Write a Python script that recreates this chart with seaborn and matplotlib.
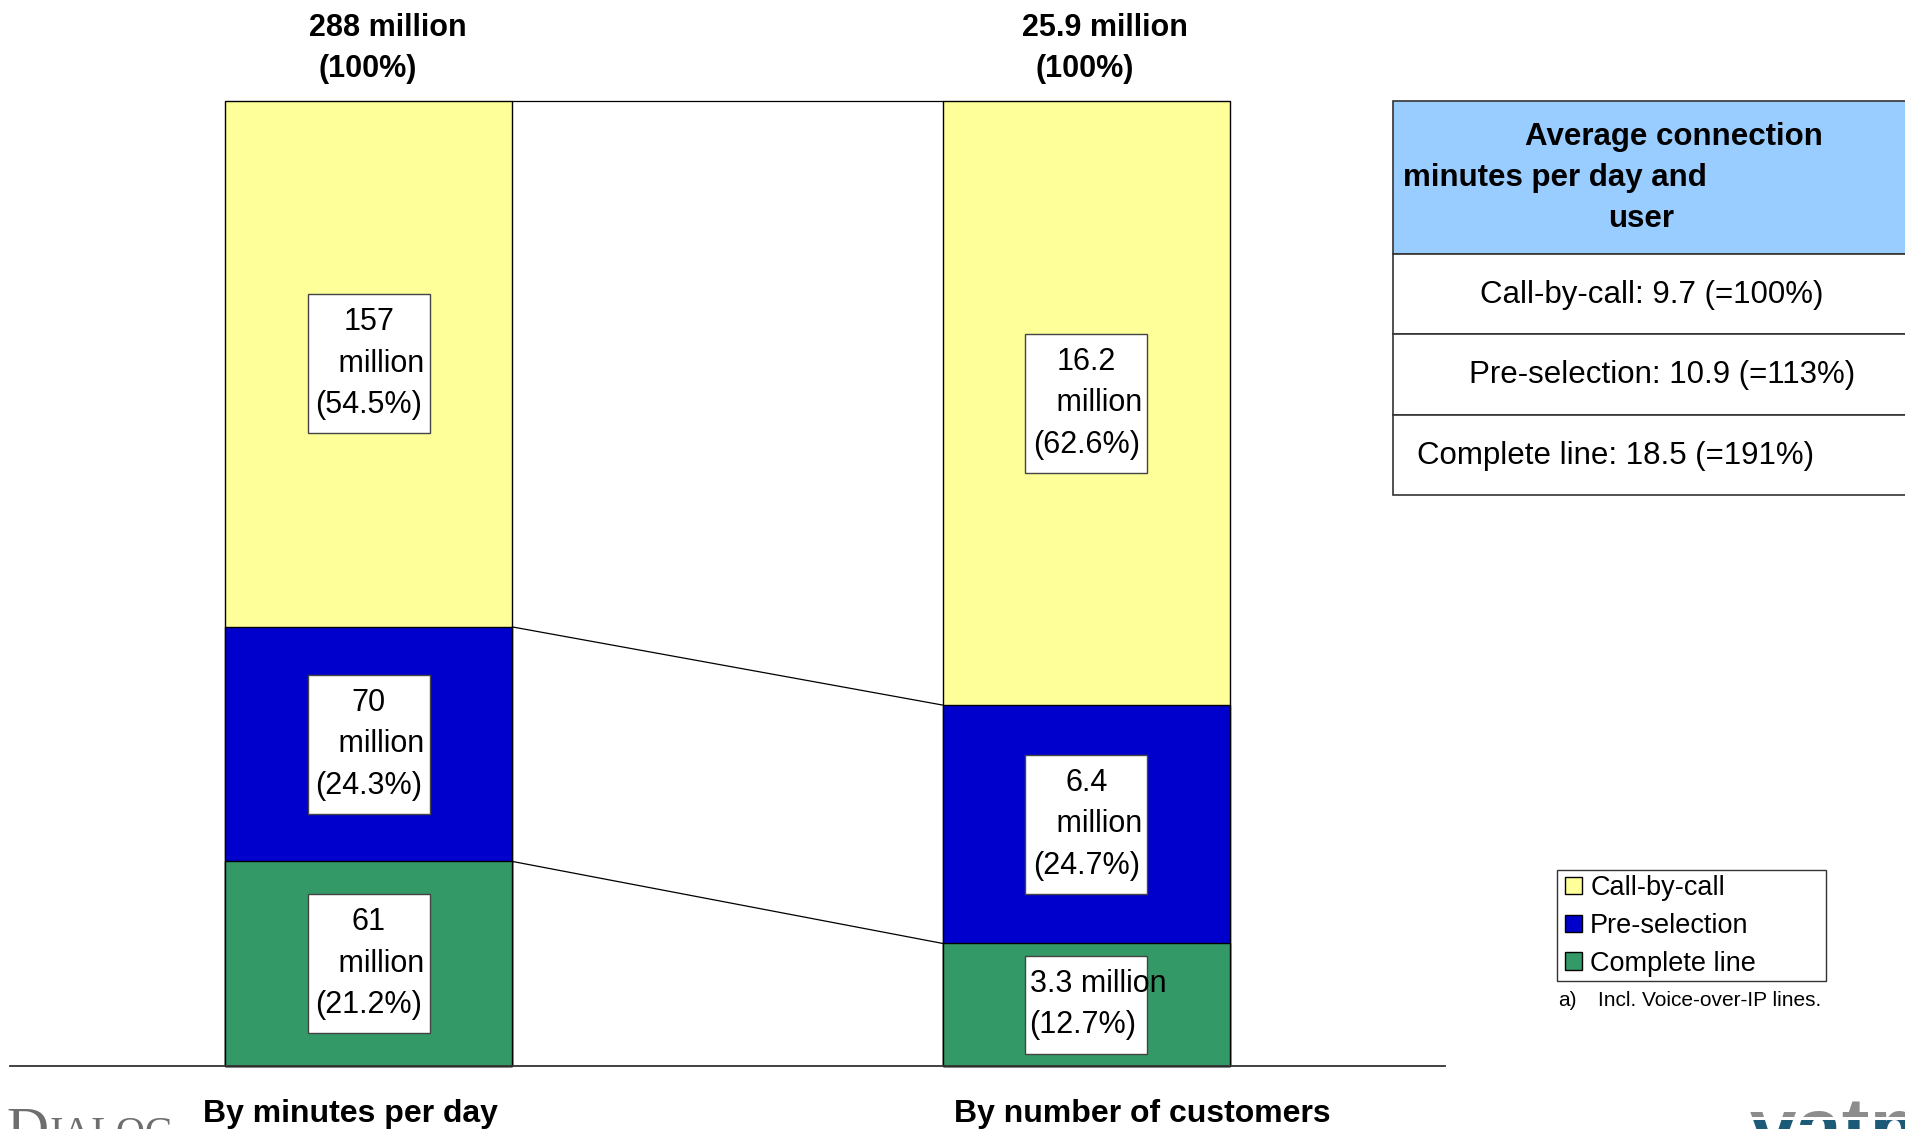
import matplotlib
matplotlib.use("Agg")
import matplotlib.pyplot as plt
import seaborn as sns
import numpy as np
from matplotlib.patches import Rectangle, Patch
from matplotlib.transforms import Bbox

# ---- data -------------------------------------------------------------
categories = ["By minutes per day", "By number of customers"]
totals = ["288 million", "25.9 million"]
segments = ["Call-by-call", "Pre-selection", "Complete line"]
call_by_call_pct = [54.5, 62.6]
pre_selection_pct = [24.3, 24.7]
complete_line_pct = [21.2, 12.7]
call_by_call_abs = ["157", "16.2"]
pre_selection_abs = ["70", "6.4"]
complete_line_abs = ["61", "3.3"]
avg_minutes = [9.7, 10.9, 18.5]
avg_index = [100, 113, 191]

seg_colors = ["#FFFF99", "#0000CC", "#339966"]

# ---- figure setup -----------------------------------------------------
W, H, DPI = 1906, 1129, 100
sns.set_theme(style="white")
plt.rcParams["font.family"] = ["Liberation Sans", "DejaVu Sans"]
plt.rcParams["text.color"] = "black"

fig = plt.figure(figsize=(W / DPI, H / DPI), dpi=DPI)
fig.patch.set_facecolor("white")


def fx(x):
    return x / W


def fy(y):
    return 1 - y / H


ax = fig.add_axes([fx(10), 63 / H, 1435 / W, 965 / H])

pct = np.array([call_by_call_pct, pre_selection_pct, complete_line_pct])
# cumulative heights, drawn tallest first so each layer sits on top
green_top = pct[2]
blue_top = pct[1] + pct[2]
yellow_top = pct.sum(axis=0)
bar_w = 0.4
for heights, col in zip([yellow_top, blue_top, green_top], seg_colors):
    sns.barplot(x=categories, y=list(heights), color=col, saturation=1,
                width=bar_w, edgecolor="black", linewidth=1,
                errorbar=None, ax=ax)
for p in ax.patches:
    p.set_clip_on(False)

ax.set_xlim(-0.5, 1.5)
ax.set_ylim(0, 100)
ax.set_xticks([])
ax.set_yticks([])
ax.set_xlabel("")
ax.set_ylabel("")
for s in ["left", "top", "right"]:
    ax.spines[s].set_visible(False)
ax.spines["bottom"].set_color("#333333")
ax.spines["bottom"].set_linewidth(1.3)

# connector lines between the two bars
hw = bar_w / 2
for lvl in [yellow_top, blue_top, green_top]:
    ax.plot([0 + hw, 1 - hw], [lvl[0], lvl[1]], color="black", lw=0.9,
            clip_on=False)

# value boxes inside the segments
bases = [blue_top, green_top, np.zeros(2)]
abs_vals = [call_by_call_abs, pre_selection_abs, complete_line_abs]
box_w, box_h = 0.17, 14.4
for k in range(3):
    for i in range(2):
        yc = bases[k][i] + pct[k][i] / 2
        p_txt = f"({pct[k][i]:.1f}%)"
        if k == 2 and i == 1:
            bh = 10.2
            ax.add_patch(Rectangle((i - box_w / 2, yc - bh / 2), box_w, bh,
                                   fc="white", ec="#444444", lw=1, zorder=5))
            ax.text(i - box_w / 2 + 0.006, yc, f"{abs_vals[k][i]} million\n{p_txt}",
                    ha="left", va="center", fontsize=22, linespacing=1.5,
                    zorder=6)
        else:
            ax.add_patch(Rectangle((i - box_w / 2, yc - box_h / 2), box_w, box_h,
                                   fc="white", ec="#444444", lw=1, zorder=5))
            ax.text(i, yc, f"{abs_vals[k][i]}\n   million\n{p_txt}",
                    ha="center", va="center", multialignment="center",
                    fontsize=22, linespacing=1.5, zorder=6)

# totals above bars
for i, (t, cx) in enumerate(zip(totals, [388, 1105])):
    fig.text(fx(cx), fy(28), t, ha="center", va="center", fontsize=22,
             fontweight="bold")
    fig.text(fx(cx - 20), fy(69), "(100%)", ha="center", va="center",
             fontsize=22, fontweight="bold")

# category captions under the baseline
for cat, lx in zip(categories, [203, 954]):
    fig.text(fx(lx), fy(1114), cat, ha="left", va="center", fontsize=23,
             fontweight="bold")

# ---- average minutes table ---------------------------------------------
tx0, tx1 = 1393, W + 20
rows_y = [101, 254, 334, 415, 495]
fig.patches.append(Rectangle((fx(tx0), fy(rows_y[1])), fx(tx1 - tx0),
                             (rows_y[1] - rows_y[0]) / H, fc="#99CCFF",
                             ec="#333333", lw=1.2, transform=fig.transFigure,
                             figure=fig))
for r in range(1, 4):
    fig.patches.append(Rectangle((fx(tx0), fy(rows_y[r + 1])), fx(tx1 - tx0),
                                 (rows_y[r + 1] - rows_y[r]) / H, fc="white",
                                 ec="#333333", lw=1.2,
                                 transform=fig.transFigure, figure=fig))
fig.text(fx(1674), fy(137), "Average connection", ha="center", va="center",
         fontsize=22.5, fontweight="bold")
fig.text(fx(1403), fy(178), "minutes per day and", ha="left", va="center",
         fontsize=22.5, fontweight="bold")
fig.text(fx(1641), fy(219), "user", ha="center", va="center",
         fontsize=22.5, fontweight="bold")
row_pos = [(1652, "center"), (1662, "center"), (1417, "left")]
for r, (name, m, idx) in enumerate(zip(segments, avg_minutes, avg_index)):
    x, ha = row_pos[r]
    yc = (rows_y[r + 1] + rows_y[r + 2]) / 2 + 1
    fig.text(fx(x), fy(yc), f"{name}: {m} (={idx}%)", ha=ha, va="center",
             fontsize=22.5)

# ---- legend -------------------------------------------------------------
fig.patches.append(Rectangle((fx(1557), fy(981)), fx(1826 - 1557),
                             (981 - 870) / H, fc="white", ec="#333333", lw=1,
                             transform=fig.transFigure, figure=fig))
handles = [Patch(facecolor=c, edgecolor="black", lw=1, label=s)
           for s, c in zip(segments, seg_colors)]
leg = fig.legend(handles=handles, loc="upper left",
                 bbox_to_anchor=(fx(1565), fy(875)), frameon=False,
                 fontsize=19.5, handlelength=0.63, handleheight=0.63,
                 handletextpad=0.3, borderpad=0, labelspacing=0.44,
                 borderaxespad=0)
fig.text(fx(1558), fy(1001), "a)", ha="left", va="center", fontsize=15)
fig.text(fx(1598), fy(1001), "Incl. Voice-over-IP lines.", ha="left",
         va="center", fontsize=15)

# ---- logos along the bottom edge ---------------------------------------
fig.text(fx(6), fy(1107), "D", ha="left", va="top", fontsize=42,
         family="Liberation Serif", color="#6e6e6e")
fig.text(fx(50), fy(1116), "IALOG", ha="left", va="top", fontsize=29,
         family="Liberation Serif", color="#6e6e6e")

split_y = 1120
for col, (y0, y1) in [("#8c8c8c", (0, split_y - 3)),
                      ("#1d5a78", (split_y, H))]:
    t = fig.text(fx(1750), fy(1095), "vatm", ha="left", va="top",
                 fontsize=60, fontweight="bold", color=col)
    t.set_clip_box(Bbox([[0, H - y1], [W, H - y0]]))
    t.set_clip_on(True)

fig.savefig("out.png", dpi=DPI, facecolor="white")
